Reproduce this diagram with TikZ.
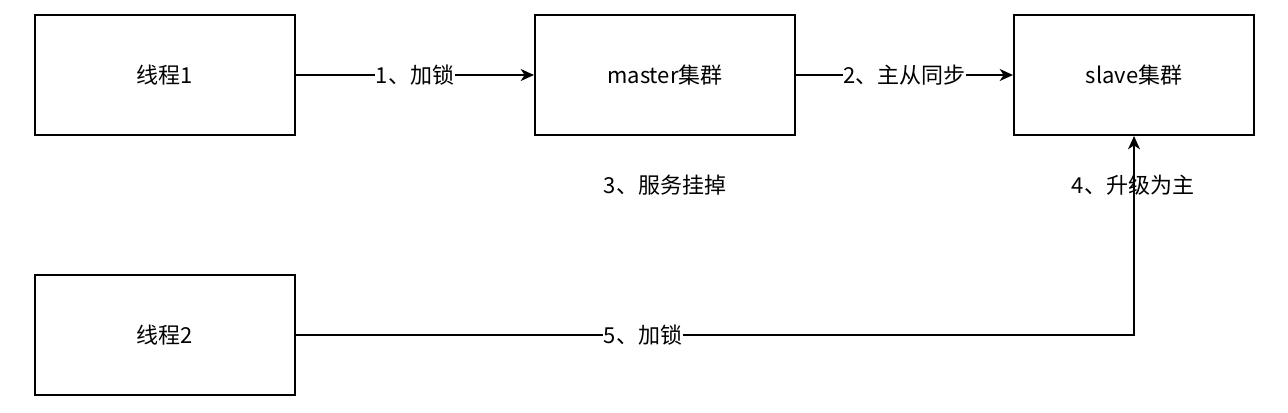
\documentclass[tikz,border=0pt]{standalone}
\usepackage{fontspec}
\setmainfont{Noto Sans CJK SC}
\usepackage{tikz}
\usetikzlibrary{arrows.meta}

\tikzset{
  box/.style={draw, line width=1.5pt, minimum width=195pt, minimum height=90pt, inner sep=0pt},
  link/.style={line width=1.1pt, -{Stealth[length=10pt,width=9pt,inset=3pt]}},
  tag/.style={fill=white, inner sep=0.5pt}
}

\begin{document}
\begin{tikzpicture}[x=0.75pt,y=-0.75pt,font=\fontsize{16.5}{19}\selectfont]
\useasboundingbox (0,0) rectangle (1288,412);
\node [box] (t1) at (165,75) {线程1};
\node [box] (master) at (665,75) {master集群};
\node [box, minimum width=180pt] (slave) at (1134,75) {slave集群};
\node [box] (t2) at (165,335) {线程2};
\draw [link] (t1) -- node [tag] {1、加锁} (master);
\draw [link] (master) -- node [tag] {2、主从同步} (slave);
\coordinate (turn) at (slave.center |- t2.east);
\draw [link] (t2.east) -- (turn) -- (slave.south);
\node [tag] (lock2) at (643,335) {5、加锁};
\node (down) at (665,185) {3、服务挂掉};
\node (promote) at (1133,185) {4、升级为主};
\end{tikzpicture}
\end{document}
